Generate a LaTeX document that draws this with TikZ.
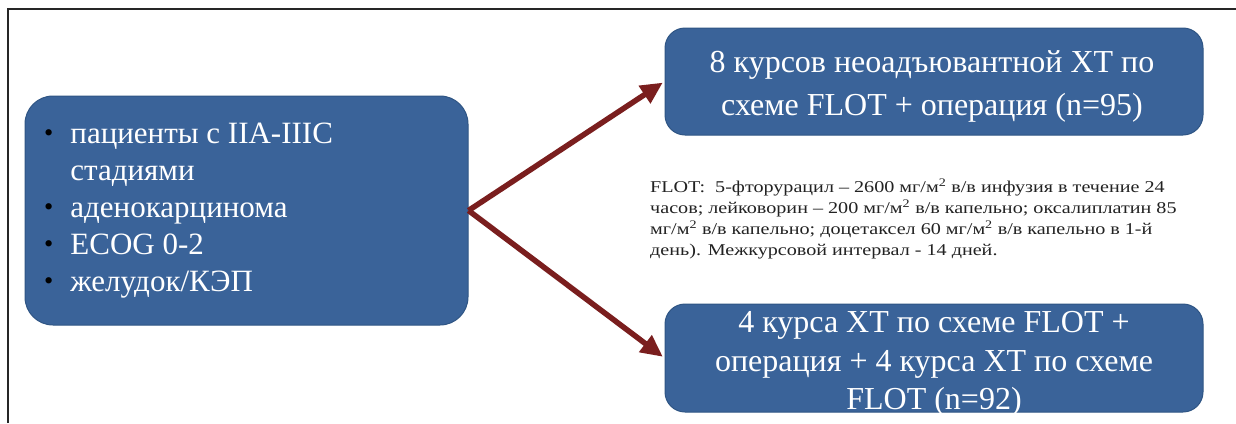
\documentclass[tikz,border=0pt]{standalone}
\usepackage{fontspec}
\setmainfont{Liberation Serif}
\newfontfamily\widefont[FakeStretch=1.22]{Liberation Serif}
\usetikzlibrary{arrows.meta}
\definecolor{boxblue}{HTML}{3A6399}
\definecolor{boxedge}{HTML}{2F5584}
\definecolor{arrred}{HTML}{7A1E1E}
\definecolor{txtgray}{HTML}{222222}
\begin{document}
\begin{tikzpicture}[x=1pt,y=-1pt,
  blbox/.style={draw=boxedge, line width=1pt, fill=boxblue, inner sep=0pt},
  boxtext/.style={text=white, inner sep=0pt, align=center},
  conn/.style={draw=arrred, line width=5.5pt, -{Triangle[length=22pt,width=20pt]}, shorten >=2pt},
  frame/.style={draw=black!85, line width=2pt}]
\useasboundingbox (0,0) rectangle (1236,423);
\fill[white] (0,0) rectangle (1236,423);
\draw[frame] (8,423) -- (8,9) -- (1236,9);

\node[blbox, rounded corners=28pt, minimum width=443pt, minimum height=229pt] (pat) at (246.5,210.5) {};
\node[text=white, inner sep=0pt, anchor=west, align=left,
      font=\fontsize{31pt}{37pt}\selectfont] (pattext) at (44,210)
  {\begin{tabular}{@{}l@{\hspace{17pt}}l@{}}
   {\color{black}\raisebox{2pt}{\scalebox{0.85}{\textbullet}}} & пациенты с IIA-IIIC\\
   & стадиями\\
   {\color{black}\raisebox{2pt}{\scalebox{0.85}{\textbullet}}} & аденокарцинома\\
   {\color{black}\raisebox{2pt}{\scalebox{0.85}{\textbullet}}} & ECOG 0-2\\
   {\color{black}\raisebox{2pt}{\scalebox{0.85}{\textbullet}}} & желудок/КЭП
   \end{tabular}};

\node[blbox, rounded corners=20pt, minimum width=538pt, minimum height=107pt] (t1) at (934,81.5) {};
\node[boxtext, font=\fontsize{32pt}{43pt}\selectfont] (t1text) at (932,86)
  {8 курсов неоадъювантной ХТ по\\схеме FLOT + операция (n=95)};

\node[blbox, rounded corners=20pt, minimum width=538pt, minimum height=108pt] (t2) at (934,358) {};
\node[boxtext, font=\fontsize{32pt}{38.5pt}\selectfont] (t2text) at (934,364)
  {4 курса ХТ по схеме FLOT +\\операция + 4 курса ХТ по схеме\\FLOT (n=92)};

\node[anchor=west, align=left, inner sep=0pt, text=txtgray,
      font=\widefont\fontsize{16.5pt}{21pt}\selectfont] (flot) at (650,219)
  {FLOT:\ \ 5-фторурацил – 2600 мг/м\textsuperscript{2} в/в инфузия в течение 24\\
   часов; лейковорин – 200 мг/м\textsuperscript{2} в/в капельно; оксалиплатин 85\\
   мг/м\textsuperscript{2} в/в капельно; доцетаксел 60 мг/м\textsuperscript{2} в/в капельно в 1-й\\
   день). Межкурсовой интервал - 14 дней.};

\draw[conn] (pat.east) -- (t1.west);
\draw[conn] (pat.east) -- (t2.west);
\end{tikzpicture}
\end{document}
